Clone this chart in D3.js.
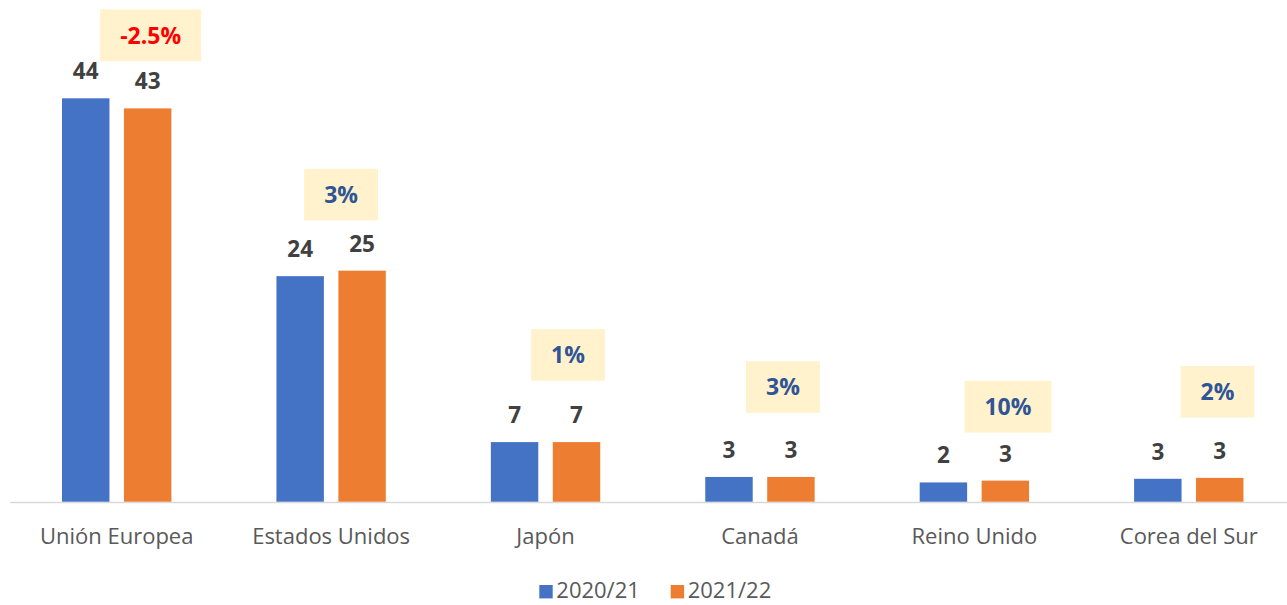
<!DOCTYPE html>
<html>
<head>
<meta charset="utf-8">
<script src="https://cdn.jsdelivr.net/npm/d3@7"></script>
<style>
  html, body { margin: 0; padding: 0; background: #fff; }
  svg { display: block; }
</style>
</head>
<body>
<svg id="chart" width="1287" height="605"></svg>
<script>
// data
const categories = ["Unión Europea", "Estados Unidos", "Japón", "Canadá", "Reino Unido", "Corea del Sur"];
const seriesNames = ["2020/21", "2021/22"];
const values2021 = [44.0, 24.6, 6.5, 2.7, 2.1, 2.5];
const values2022 = [42.9, 25.2, 6.5, 2.7, 2.3, 2.6];
const labels2021 = ["44", "24", "7", "3", "2", "3"];
const labels2022 = ["43", "25", "7", "3", "3", "3"];
const changeLabels = ["-2.5%", "3%", "1%", "3%", "10%", "2%"];

// layout of the change boxes (px, from group centre / above the orange bar)
const boxDx = [34, 10, 22.5, 23, 33.6, 28.7];
const boxGap = [47.3, 50.3, 61.3, 64, 48, 60.3];

const colors = ["#4472c4", "#ed7d31"];
const width = 1287, height = 605;
const baseline = 501.7;

const svg = d3.select("#chart");

const x = d3.scaleBand().domain(categories).range([9.5, 1296]).padding(0);
const xSub = d3.scaleBand().domain(seriesNames).range([0, x.bandwidth()])
    .paddingInner(0.234).paddingOuter(0.848);
const y = d3.scaleLinear().domain([0, 44]).range([baseline, 98.3]);

const rows = categories.map((c, i) => ({
    cat: c,
    vals: [values2021[i], values2022[i]],
    labels: [labels2021[i], labels2022[i]],
    change: changeLabels[i],
    i: i
}));

// axis baseline
svg.append("line")
    .attr("x1", 10).attr("x2", width)
    .attr("y1", baseline + 0.8).attr("y2", baseline + 0.8)
    .attr("stroke", "#d9d9d9").attr("stroke-width", 1.6);

const groups = svg.selectAll("g.grp").data(rows).join("g")
    .attr("class", "grp")
    .attr("transform", d => `translate(${x(d.cat)},0)`);

// bars
groups.selectAll("rect.bar").data(d => d.vals.map((v, k) => ({ v, k, label: d.labels[k] })))
    .join("rect")
    .attr("class", "bar")
    .attr("x", d => xSub(seriesNames[d.k]))
    .attr("width", xSub.bandwidth())
    .attr("y", d => y(d.v))
    .attr("height", d => baseline - y(d.v))
    .attr("fill", d => colors[d.k]);

// value labels
groups.selectAll("text.val").data(d => d.vals.map((v, k) => ({ v, k, label: d.labels[k] })))
    .join("text")
    .attr("class", "val")
    .attr("x", d => xSub(seriesNames[d.k]) + xSub.bandwidth() / 2)
    .attr("y", d => y(d.v) - 19)
    .attr("text-anchor", "middle")
    .attr("font-family", "'Open Sans', sans-serif")
    .attr("font-weight", "bold")
    .attr("font-size", 22.5)
    .attr("fill", "#404040")
    .text(d => d.label);

// change boxes
groups.each(function (d) {
    const g = d3.select(this);
    const cx = x.bandwidth() / 2 + boxDx[d.i];
    const topBar = y(d.vals[1]);
    const boxH = 51.7;
    const boxY = topBar - boxGap[d.i] - boxH;
    const rect = g.append("rect").attr("fill", "#fff2cc");
    const t = g.append("text")
        .attr("x", cx)
        .attr("y", boxY + boxH / 2)
        .attr("dy", "0.36em")
        .attr("text-anchor", "middle")
        .attr("font-family", "'Open Sans', sans-serif")
        .attr("font-weight", "bold")
        .attr("font-size", 23)
        .attr("fill", d.change.startsWith("-") ? "#ff0000" : "#2f5597")
        .text(d.change);
    const tw = t.node().getComputedTextLength();
    rect.attr("x", cx - tw / 2 - 20).attr("width", tw + 40)
        .attr("y", boxY).attr("height", boxH);
});

// category labels
groups.append("text")
    .attr("x", x.bandwidth() / 2)
    .attr("y", 544.3)
    .attr("text-anchor", "middle")
    .attr("font-family", "'Open Sans', sans-serif")
    .attr("font-size", 22)
    .attr("fill", "#595959")
    .text(d => d.cat);

// legend
const legendX = [539.3, 670.7];
const legend = svg.selectAll("g.leg").data(seriesNames).join("g")
    .attr("class", "leg")
    .attr("transform", (d, k) => `translate(${legendX[k]},585)`);
legend.append("rect")
    .attr("width", 13.4).attr("height", 13.4)
    .attr("fill", (d, k) => colors[k]);
legend.append("text")
    .attr("x", 17)
    .attr("y", 13.2)
    .attr("font-family", "'Open Sans', sans-serif")
    .attr("font-size", 22)
    .attr("fill", "#595959")
    .text(d => d);
</script>
</body>
</html>
